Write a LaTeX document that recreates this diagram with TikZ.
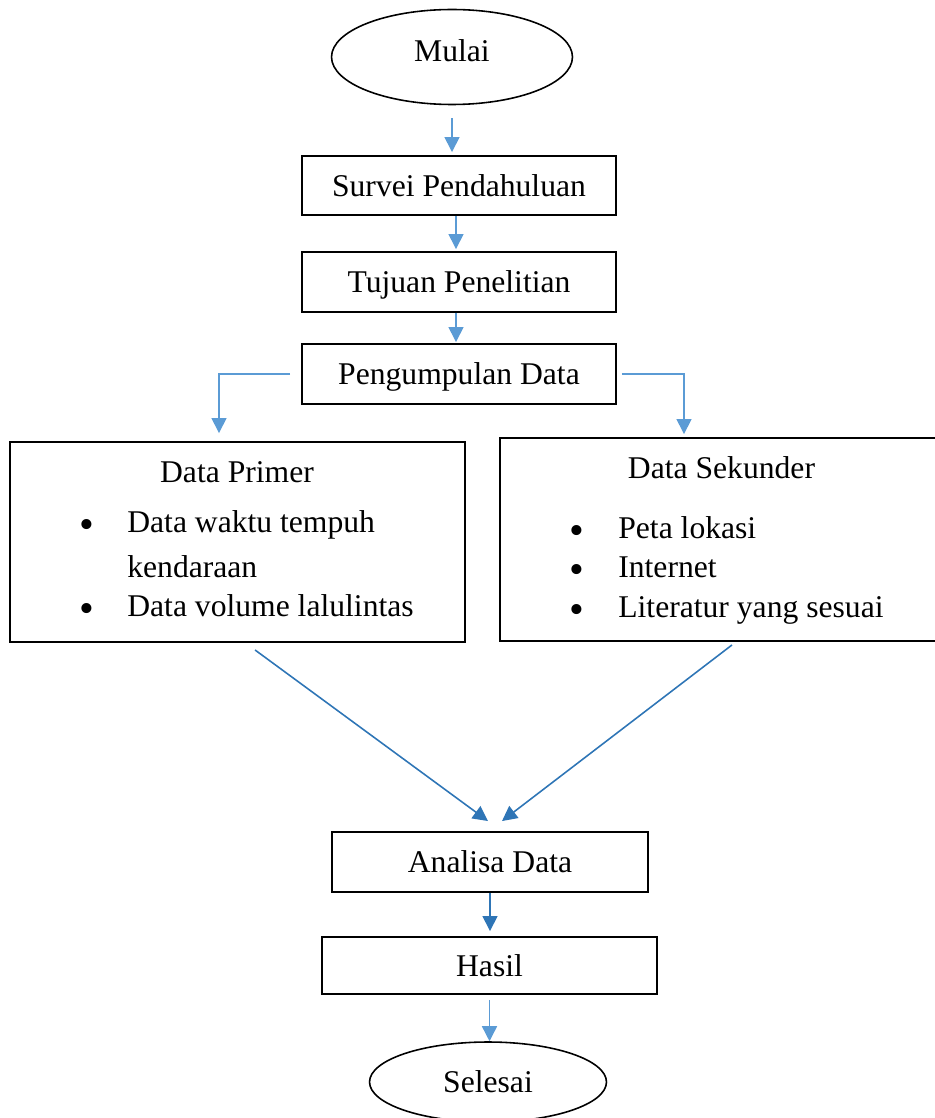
\documentclass[tikz,border=0pt]{standalone}
\usepackage{fontspec}
\setmainfont{Liberation Serif}
\usepackage{tikz}
\usetikzlibrary{shapes.geometric,arrows.meta,calc}
\definecolor{flowblue}{HTML}{5B9BD5}
\definecolor{flowdark}{HTML}{2E75B6}
\tikzset{
	>={Triangle[length=0.3cm,width=0.3cm]},
	every node/.style={font=\fontsize{18pt}{22pt}\selectfont},
	stepbox/.style={draw,line width=1.1pt,rectangle,text height=12pt,text depth=0pt,inner sep=0pt},
	terminal/.style={draw,line width=0.9pt,ellipse,text height=12pt,text depth=0pt,inner sep=0pt},
	flow/.style={->,line width=0.85pt,color=flowblue},
	flowd/.style={->,line width=0.9pt,color=flowdark},
	title/.style={anchor=base,inner sep=0pt},
	txt/.style={anchor=base west,inner sep=0pt},
	bul/.style={anchor=base,inner sep=0pt,yshift=-0.13cm,font=\fontsize{24pt}{24pt}\selectfont}
}

\begin{document}
\begin{tikzpicture}[x=0.02cm,y=-0.02cm]
	\useasboundingbox (0,0) rectangle (934,1118);

	\node [terminal,minimum width=4.82cm,minimum height=1.9cm,text depth=7.4pt] (mulai) at (452,57) {Mulai};
	\node [stepbox,minimum width=6.28cm,minimum height=1.18cm] (survei) at (459,185.5) {Survei Pendahuluan};
	\node [stepbox,minimum width=6.28cm,minimum height=1.2cm] (tujuan) at (459,282) {Tujuan Penelitian};
	\node [stepbox,minimum width=6.28cm,minimum height=1.2cm] (kumpul) at (459,374) {Pengumpulan Data};

	\node [stepbox,minimum width=9.1cm,minimum height=4cm] (primer) at (237.5,542) {};
	\node [title] (primertitle) at (237,482) {Data Primer};
	\node [bul] (pb1) at (87,532) {\textbullet};
	\node [txt] (pt1) at (127,532) {Data waktu tempuh};
	\node [txt] (pt1b) at (127,577) {kendaraan};
	\node [bul] (pb2) at (87,616) {\textbullet};
	\node [txt] (pt2) at (127,616) {Data volume lalulintas};

	\node [stepbox,minimum width=8.8cm,minimum height=4.06cm] (sekunder) at (720,539.5) {};
	\node [title] (sekundertitle) at (721.5,478) {Data Sekunder};
	\node [bul] (sb1) at (577,538) {\textbullet};
	\node [txt] (st1) at (618,538) {Peta lokasi};
	\node [bul] (sb2) at (577,577) {\textbullet};
	\node [txt] (st2) at (618,577) {Internet};
	\node [bul] (sb3) at (577,617) {\textbullet};
	\node [txt] (st3) at (618,617) {Literatur yang sesuai};

	\node [stepbox,minimum width=6.32cm,minimum height=1.2cm] (analisa) at (490,862) {Analisa Data};
	\node [stepbox,minimum width=6.7cm,minimum height=1.14cm] (hasil) at (489.5,965.5) {Hasil};
	\node [terminal,minimum width=4.74cm,minimum height=1.6cm] (selesai) at (488,1082) {Selesai};

	\draw [flow,shorten <=0.26cm,shorten >=0.06cm] (mulai.south) -- (mulai.south |- survei.north);
	\draw [flow,shorten >=0.04cm] ($(survei.south)+(-3,0)$) -- ($(tujuan.north)+(-3,0)$);
	\draw [flow,shorten >=0.02cm] ($(tujuan.south)+(-3,0)$) -- ($(kumpul.north)+(-3,0)$);
	\draw [flow,shorten <=0.22cm] (kumpul.west) -| ($(primer.north)+(-18.5,-8)$);
	\draw [flow,shorten <=0.1cm] (kumpul.east) -| ($(sekunder.north)+(-36,-3)$);

	\draw [flowd] ($(primer.south)+(17.5,7)$) -- ($(analisa.north)+(-2,-10)$);
	\draw [flowd] ($(sekunder.south)+(12,3)$) -- ($(analisa.north)+(12,-10)$);

	\draw [flowd,shorten >=0.1cm] (analisa.south) -- (analisa.south |- hasil.north);
	\draw [flow,shorten <=0.1cm] (hasil.south) -- (hasil.south |- selesai.north);
\end{tikzpicture}
\end{document}
